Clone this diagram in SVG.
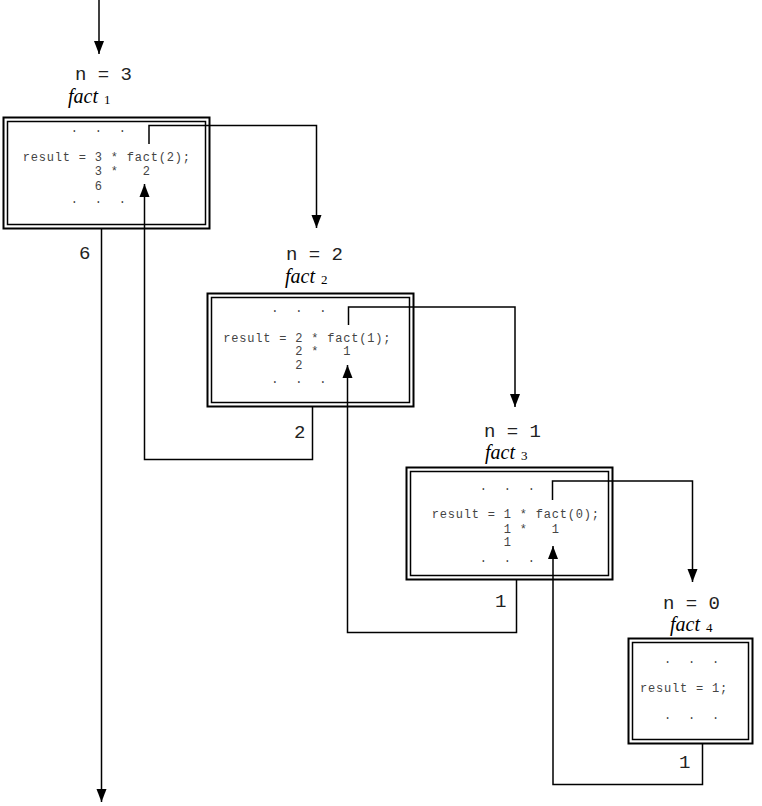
<svg xmlns="http://www.w3.org/2000/svg" width="762" height="806" viewBox="0 0 762 806">
<style>
.bg{fill:#fff}
.outer{fill:none;stroke:#000;stroke-width:2}
.inner{fill:none;stroke:#000;stroke-width:1.5}
.code{font-family:"Liberation Mono",monospace;font-size:12px;letter-spacing:0.8px;fill:#444;white-space:pre}
.lbl{font-family:"Liberation Mono",monospace;font-size:19px;fill:#222;white-space:pre}
.fact{font-family:"Liberation Serif",serif;font-size:20px;font-style:italic;fill:#000}
.sub{font-family:"Liberation Serif",serif;font-size:13px;font-style:normal}
.ln{fill:none;stroke:#000;stroke-width:1.5}
</style>
<defs>
<marker id="a" markerUnits="userSpaceOnUse" markerWidth="14" markerHeight="12" viewBox="0 0 14 12" refX="13" refY="6" orient="auto">
<path d="M0,1 L13,6 L0,11 Z" fill="#000"/>
</marker>
</defs>
<rect class="bg" x="0" y="0" width="762" height="806"/>

<g id="connectors">
<line class="ln" x1="99" y1="0" x2="99" y2="54" marker-end="url(#a)"/>
<polyline class="ln" points="149,144 149,125.5 316.5,125.5 316.5,228" marker-end="url(#a)"/>
<polyline class="ln" points="348.5,325 348.5,307 515,307 515,407" marker-end="url(#a)"/>
<polyline class="ln" points="552.5,500 552.5,481 692.5,481 692.5,582" marker-end="url(#a)"/>
<polyline class="ln" points="702.5,744 702.5,784.5 553,784.5 553,546" marker-end="url(#a)"/>
<polyline class="ln" points="516.5,580 516.5,632.5 347.5,632.5 347.5,365" marker-end="url(#a)"/>
<polyline class="ln" points="312.5,407 312.5,459.5 144.5,459.5 144.5,184" marker-end="url(#a)"/>
<line class="ln" x1="101.5" y1="229" x2="101.5" y2="802" marker-end="url(#a)"/>
<text class="lbl" x="79" y="259">6</text>
<text class="lbl" x="294" y="438">2</text>
<text class="lbl" x="495" y="607">1</text>
<text class="lbl" x="679" y="768">1</text>
</g>

<g id="fact1">
<text class="lbl" x="75" y="80">n = 3</text>
<text class="fact" x="68" y="103">fact<tspan class="sub" dx="6" dy="1">1</tspan></text>
<rect class="outer" x="3.5" y="117.5" width="206" height="111"/>
<rect class="inner" x="7.5" y="121.5" width="198" height="103"/>
<text class="code" x="70.7" y="132">.  .  .</text>
<text class="code" x="22.7" y="161">result = 3 * fact(2);</text>
<text class="code" x="94.7" y="175">3 *   2</text>
<text class="code" x="94.7" y="190">6</text>
<text class="code" x="70.7" y="203">.  .  .</text>
</g>

<g id="fact2">
<text class="lbl" x="286" y="260">n = 2</text>
<text class="fact" x="285" y="283">fact<tspan class="sub" dx="6" dy="1">2</tspan></text>
<rect class="outer" x="207.5" y="293.5" width="206" height="113"/>
<rect class="inner" x="211.5" y="297.5" width="198" height="105"/>
<text class="code" x="271.3" y="312">.  .  .</text>
<text class="code" x="223.3" y="342">result = 2 * fact(1);</text>
<text class="code" x="295.3" y="355">2 *   1</text>
<text class="code" x="295.3" y="369">2</text>
<text class="code" x="271.3" y="383">.  .  .</text>
</g>

<g id="fact3">
<text class="lbl" x="484" y="437">n = 1</text>
<text class="fact" x="485" y="459">fact<tspan class="sub" dx="6" dy="1">3</tspan></text>
<rect class="outer" x="406.5" y="467.5" width="206" height="112"/>
<rect class="inner" x="410.5" y="471.5" width="198" height="104"/>
<text class="code" x="479.7" y="490">.  .  .</text>
<text class="code" x="431.7" y="518">result = 1 * fact(0);</text>
<text class="code" x="503.7" y="533">1 *   1</text>
<text class="code" x="503.7" y="546">1</text>
<text class="code" x="479.7" y="562">.  .  .</text>
</g>

<g id="fact4">
<text class="lbl" x="663" y="609">n = 0</text>
<text class="fact" x="670" y="631">fact<tspan class="sub" dx="6" dy="1">4</tspan></text>
<rect class="outer" x="628.5" y="638.5" width="124" height="105"/>
<rect class="inner" x="632.5" y="642.5" width="116" height="97"/>
<text class="code" x="664" y="663">.  .  .</text>
<text class="code" x="640" y="692">result = 1;</text>
<text class="code" x="664" y="719">.  .  .</text>
</g>
</svg>
